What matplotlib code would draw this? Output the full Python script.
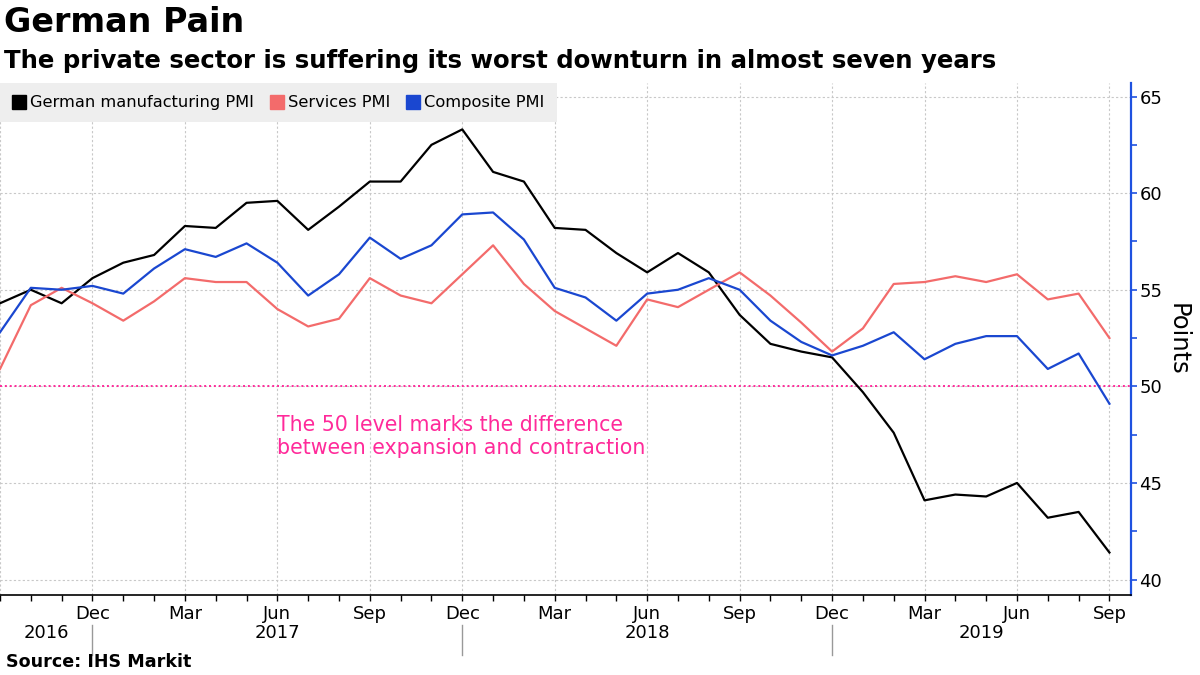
import matplotlib
matplotlib.use("Agg")
import matplotlib.pyplot as plt
import numpy as np
from matplotlib.lines import Line2D

# Monthly data, Sep 2016 .. Sep 2019
months = ["Sep", "Oct", "Nov", "Dec", "Jan", "Feb", "Mar", "Apr", "May", "Jun", "Jul", "Aug"] * 3 + ["Sep"]
years = [2016] * 4 + [2017] * 12 + [2018] * 12 + [2019] * 9

manufacturing = [54.3, 55.0, 54.3, 55.6,
                 56.4, 56.8, 58.3, 58.2, 59.5, 59.6, 58.1, 59.3, 60.6, 60.6, 62.5, 63.3,
                 61.1, 60.6, 58.2, 58.1, 56.9, 55.9, 56.9, 55.9, 53.7, 52.2, 51.8, 51.5,
                 49.7, 47.6, 44.1, 44.4, 44.3, 45.0, 43.2, 43.5, 41.4]
services = [50.9, 54.2, 55.1, 54.3,
            53.4, 54.4, 55.6, 55.4, 55.4, 54.0, 53.1, 53.5, 55.6, 54.7, 54.3, 55.8,
            57.3, 55.3, 53.9, 53.0, 52.1, 54.5, 54.1, 55.0, 55.9, 54.7, 53.3, 51.8,
            53.0, 55.3, 55.4, 55.7, 55.4, 55.8, 54.5, 54.8, 52.5]
composite = [52.8, 55.1, 55.0, 55.2,
             54.8, 56.1, 57.1, 56.7, 57.4, 56.4, 54.7, 55.8, 57.7, 56.6, 57.3, 58.9,
             59.0, 57.6, 55.1, 54.6, 53.4, 54.8, 55.0, 55.6, 55.0, 53.4, 52.3, 51.6,
             52.1, 52.8, 51.4, 52.2, 52.6, 52.6, 50.9, 51.7, 49.1]

series_names = ["German manufacturing PMI", "Services PMI", "Composite PMI"]
colors = ["#000000", "#f36b6b", "#1a47d0"]
axis_blue = "#1f52e0"
magenta = "#ff2a9a"

x = np.arange(len(months))

fig = plt.figure(figsize=(12, 6.75), dpi=100)
ax = fig.add_axes([0, 0.1185, 0.9425, 0.7585])

for vals, c in zip([manufacturing, services, composite], colors):
    ax.plot(x, vals, color=c, lw=1.6, zorder=3)

ax.axhline(50, color=magenta, lw=1.4, ls=(0, (1, 1.5)), zorder=2)
ax.text(9.0, 47.4, "The 50 level marks the difference\nbetween expansion and contraction",
        color=magenta, fontsize=14.8, ha="left", va="center", linespacing=1.2)

ax.set_xlim(0, 36.7)
ax.set_ylim(39.2, 65.7)

# y axis on the right
ax.yaxis.tick_right()
ax.yaxis.set_label_position("right")
ax.set_yticks(np.arange(40, 66, 5))
ax.set_yticks(np.arange(42.5, 65, 5), minor=True)
ax.tick_params(axis="y", which="both", colors=axis_blue, length=4, width=1.2, labelsize=13,
               labelcolor="black", pad=2)
ax.set_ylabel("Points", fontsize=17.5, rotation=270, labelpad=20)

# x axis: quarterly labels (none at the left edge), monthly ticks
quarter_idx = [i for i, m in enumerate(months) if m in ("Mar", "Jun", "Sep", "Dec")]
ax.set_xticks(quarter_idx)
ax.set_xticklabels(["" if i == 0 else months[i] for i in quarter_idx])
ax.set_xticks(x, minor=True)
ax.tick_params(axis="x", which="both", length=4, width=1, labelsize=13, pad=3)

for s in ["top", "left"]:
    ax.spines[s].set_visible(False)
ax.spines["right"].set_color(axis_blue)
ax.spines["right"].set_linewidth(1.6)
ax.spines["bottom"].set_linewidth(1.2)

ax.grid(True, which="major", color="#c8c8c8", ls=(0, (2, 2)), lw=0.8)

# year labels and separators
trans = ax.get_xaxis_transform()
uniq_years = sorted(set(years))
for yr in uniq_years:
    idx = [i for i, v in enumerate(years) if v == yr]
    lo = 0 if yr == uniq_years[0] else idx[0] - 1
    hi = idx[-1] if yr != uniq_years[-1] else 36.7
    ax.text((lo + hi) / 2, -0.075, str(yr), transform=trans, ha="center", va="center",
            fontsize=13)
    if yr != uniq_years[-1]:
        ax.plot([idx[-1], idx[-1]], [-0.058, -0.118], transform=trans, color="#999999",
                lw=1, clip_on=False)

# legend
handles = [Line2D([], [], marker="s", ls="none", color=c, markersize=9.5) for c in colors]
leg = ax.legend(handles, series_names, loc="upper left", bbox_to_anchor=(0, 1), ncol=3,
                frameon=True, fontsize=11.7, handlelength=0.8, handletextpad=0.3,
                columnspacing=1.0, borderaxespad=0, borderpad=0.75, fancybox=False)
leg.get_frame().set_facecolor("#eeeeee")
leg.get_frame().set_edgecolor("none")
leg.get_frame().set_alpha(1)

fig.text(0.003, 0.966, "German Pain", fontsize=24, fontweight="bold", ha="left", va="center")
fig.text(0.003, 0.91, "The private sector is suffering its worst downturn in almost seven years",
         fontsize=17.6, fontweight="bold", ha="left", va="center")
fig.text(0.005, 0.019, "Source: IHS Markit", fontsize=12.6, fontweight="bold", ha="left",
         va="center")

fig.savefig("out.png", dpi=100)
